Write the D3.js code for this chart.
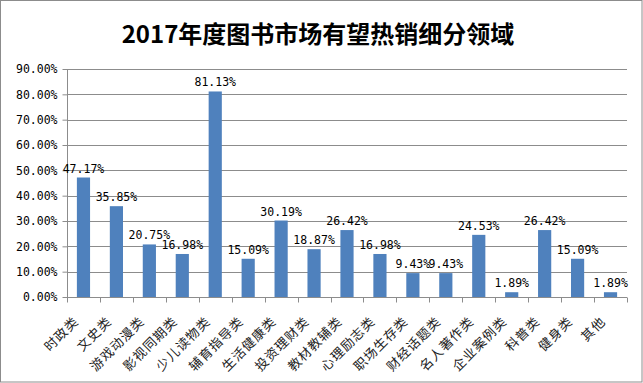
<!DOCTYPE html>
<html><head><meta charset="utf-8">
<script src="https://cdn.jsdelivr.net/npm/d3@7"></script>
<style>body{margin:0;background:#fff}svg{display:block}</style>
</head><body>
<svg id="c" width="643" height="383"></svg>
<script>
const categories = ["时政类","文史类","游戏动漫类","影视同期类","少儿读物类","辅育指导类","生活健康类","投资理财类","教材教辅类","心理励志类","职场生存类","财经话题类","名人著作类","企业案例类","科普类","健身类","其他"];
const values = [47.17,35.85,20.75,16.98,81.13,15.09,30.19,18.87,26.42,16.98,9.43,9.43,24.53,1.89,26.42,15.09,1.89];
const yTicks = [0,10,20,30,40,50,60,70,80,90];
const title = "2017年度图书市场有望热销细分领域";

const svg = d3.select("#c");
const W = 643, H = 383;
const m = {left:67, right:16, top:69, bottom:86};
svg.append("rect").attr("x",0.5).attr("y",0.5).attr("width",W-1.5).attr("height",H-1.5)
  .attr("fill","#fff").attr("stroke","#8c8c8c");

const x = d3.scaleBand().domain(categories).range([m.left, W-m.right]).paddingInner(0.6).paddingOuter(0.3);
const y = d3.scaleLinear().domain([0,90]).range([H-m.bottom, m.top]);

svg.append("text").attr("x",318).attr("y",43).attr("text-anchor","middle")
  .attr("font-family","'Noto Sans CJK SC'").attr("font-weight","bold").attr("font-size",24)
  .attr("fill","#000").text(title);

// gridlines
svg.append("g").selectAll("line").data(yTicks.filter(d=>d>0)).join("line")
  .attr("x1",m.left).attr("x2",W-m.right).attr("y1",d=>Math.round(y(d))+0.5).attr("y2",d=>Math.round(y(d))+0.5)
  .attr("stroke","#8c8c8c");

const mono = "'DejaVu Sans Mono', monospace";
const yAxis = svg.append("g").attr("transform",`translate(${m.left+0.5},0)`)
  .call(d3.axisLeft(y).tickValues(yTicks).tickSize(5).tickPadding(5).tickFormat(d=>d.toFixed(2)+"%"));
yAxis.selectAll("path,line").attr("stroke","#8c8c8c");
yAxis.selectAll("text").attr("font-family",mono).attr("font-size",11.5).attr("fill","#000");
yAxis.select(".domain").attr("d",`M0,${y(90)}V${y(0)}`);

// bars
svg.append("g").selectAll("rect").data(values).join("rect")
  .attr("x",(d,i)=>x(categories[i])).attr("width",x.bandwidth())
  .attr("y",d=>y(d)).attr("height",d=>y(0)-y(d)).attr("fill","#4f81bd");

// x axis
const step = x.step();
const xg = svg.append("g").attr("transform",`translate(0,${Math.round(y(0))+0.5})`);
xg.append("line").attr("x1",m.left).attr("x2",W-m.right).attr("stroke","#8c8c8c");
xg.selectAll("line.t").data(d3.range(categories.length+1)).join("line").attr("class","t")
  .attr("x1",i=>Math.round(m.left+i*step)+0.5).attr("x2",i=>Math.round(m.left+i*step)+0.5)
  .attr("y1",0).attr("y2",5).attr("stroke","#8c8c8c");
xg.selectAll("text").data(categories).join("text")
  .attr("transform",d=>`translate(${x(d)+x.bandwidth()/2-11},18) rotate(-45)`)
  .attr("text-anchor","end").attr("dy","0.75em").attr("letter-spacing","1px")
  .attr("font-family","'Noto Sans CJK SC'").attr("font-size",13).attr("fill","#222").text(d=>d);

// data labels
svg.append("g").selectAll("text").data(values).join("text")
  .attr("x",(d,i)=>x(categories[i])+x.bandwidth()/2).attr("y",d=>y(d)-5)
  .attr("text-anchor","middle").attr("font-family",mono).attr("font-size",11.5).attr("fill","#000")
  .text(d=>d.toFixed(2)+"%");
</script>
</body></html>
